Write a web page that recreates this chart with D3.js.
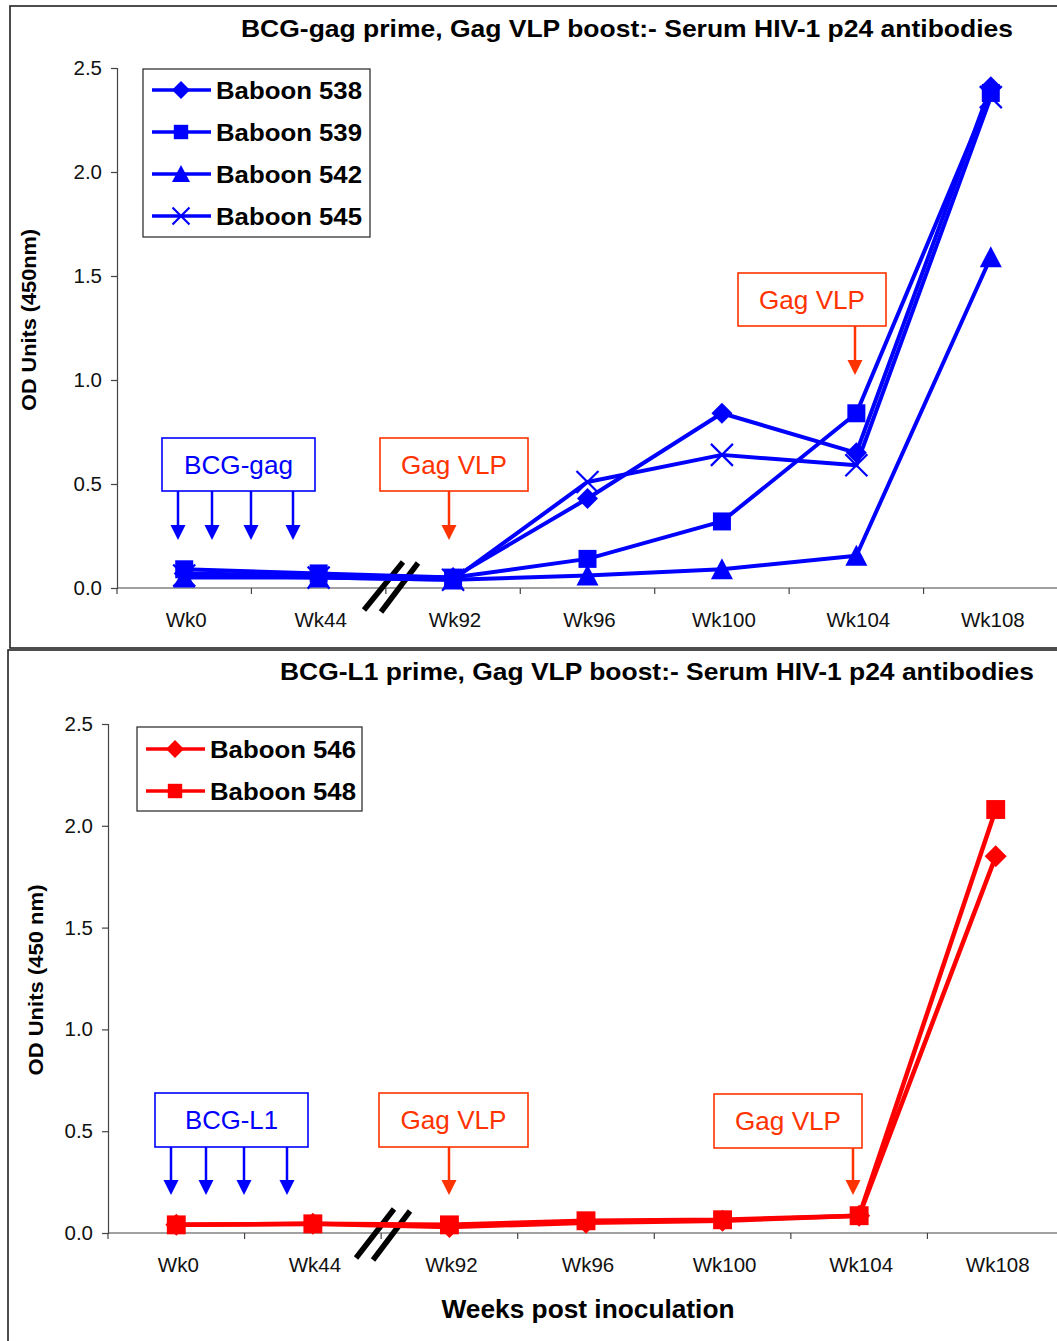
<!DOCTYPE html>
<html><head><meta charset="utf-8">
<script src="https://cdn.jsdelivr.net/npm/d3@7/dist/d3.min.js"></script>
<style>
html,body{margin:0;padding:0;background:#fff;}
svg{display:block;font-family:"Liberation Sans",Arial,sans-serif;}
</style></head>
<body>
<svg id="chart" width="1057" height="1341"></svg>
<script>
// ---- data ----
const categories = ["Wk0","Wk44","Wk92","Wk96","Wk100","Wk104","Wk108"];
const yTicks = [0, 0.5, 1.0, 1.5, 2.0, 2.5];
const baboon538 = [0.07, 0.06, 0.05, 0.43, 0.84, 0.65, 2.41];
const baboon539 = [0.09, 0.07, 0.05, 0.14, 0.32, 0.84, 2.38];
const baboon542 = [0.05, 0.05, 0.04, 0.06, 0.09, 0.155, 1.59];
const baboon545 = [0.06, 0.05, 0.04, 0.51, 0.64, 0.59, 2.36];
const baboon546 = [0.04, 0.045, 0.03, 0.05, 0.06, 0.085, 1.85];
const baboon548 = [0.04, 0.045, 0.04, 0.06, 0.065, 0.085, 2.08];
const topSeries = [
  {name:"Baboon 538", values:baboon538, marker:"diamond"},
  {name:"Baboon 539", values:baboon539, marker:"square"},
  {name:"Baboon 542", values:baboon542, marker:"triangle"},
  {name:"Baboon 545", values:baboon545, marker:"cross"}
];
const bottomSeries = [
  {name:"Baboon 546", values:baboon546, marker:"diamond"},
  {name:"Baboon 548", values:baboon548, marker:"square"}
];

const BLUE = "#0000ff", RED = "#ff0000", ORANGE = "#ff3300";
const svg = d3.select("#chart");

function markerPath(type, s) {
  const h = s/2;
  if (type === "diamond") return `M0,${-h}L${h},0L0,${h}L${-h},0Z`;
  if (type === "square") { const q = h*0.9; return `M${-q},${-q}H${q}V${q}H${-q}Z`; }
  if (type === "triangle") return `M0,${-h}L${h},${h*0.9}L${-h},${h*0.9}Z`;
  if (type === "cross") return `M${-h},${-h}L${h},${h}M${h},${-h}L${-h},${h}`;
}
function drawMarker(g, type, x, y, s, color) {
  const p = g.append("path").attr("transform", `translate(${x},${y})`).attr("d", markerPath(type, s));
  if (type === "cross") p.attr("fill","none").attr("stroke",color).attr("stroke-width",2.2);
  else p.attr("fill",color).attr("stroke","none");
}

function drawPanel(cfg) {
  const g = svg.append("g");
  // frame
  g.append("rect").attr("x",cfg.frame[0]).attr("y",cfg.frame[1]).attr("width",cfg.frame[2]).attr("height",cfg.frame[3])
    .attr("fill","none").attr("stroke","#222").attr("stroke-width",1.6);

  const x = d3.scaleBand().domain(categories).range([cfg.x0, cfg.x1]).padding(0);
  const y = d3.scaleLinear().domain([0, 2.5]).range([cfg.y0, cfg.y1]);
  const cx = c => x(c) + x.bandwidth()/2;

  // y axis
  const ya = g.append("g").attr("transform",`translate(${cfg.x0},0)`)
    .call(d3.axisLeft(y).tickValues(yTicks).tickFormat(d3.format(".1f")).tickSize(6).tickPadding(9));
  ya.select(".domain").attr("stroke","#444").attr("stroke-width",1.2);
  ya.selectAll(".tick line").attr("stroke","#444").attr("stroke-width",1.2);
  ya.selectAll(".tick text").attr("font-size",20.5).attr("fill","#111").attr("font-family","Liberation Sans, Arial, sans-serif");

  // x axis: line + ticks at band boundaries, labels at centers
  const xa = g.append("g").attr("transform",`translate(0,${cfg.y0})`);
  xa.append("line").attr("x1",cfg.x0).attr("x2",cfg.x1+10).attr("stroke","#444").attr("stroke-width",1.2);
  const bounds = categories.map(c => x(c)).concat([cfg.x1]);
  xa.selectAll("line.tk").data(bounds).join("line").attr("class","tk")
    .attr("x1",d=>d).attr("x2",d=>d).attr("y1",0).attr("y2",6).attr("stroke","#444").attr("stroke-width",1.2);
  xa.selectAll("text").data(categories).join("text")
    .attr("x", d => cx(d)+2).attr("y", 39).attr("text-anchor","middle")
    .attr("font-size",20.5).attr("fill","#111").text(d=>d);

  // break marks
  cfg.breaks.forEach(b => g.append("line").attr("x1",b[0]).attr("y1",b[1]).attr("x2",b[2]).attr("y2",b[3])
    .attr("stroke","#000").attr("stroke-width",5.5));

  // annotations
  cfg.boxes.forEach(b => {
    g.append("rect").attr("x",b.x).attr("y",b.y).attr("width",b.w).attr("height",b.h)
      .attr("fill","#fff").attr("stroke",b.color).attr("stroke-width",1.6);
    g.append("text").attr("x",b.x+b.w/2).attr("y",b.y+b.h/2+9).attr("text-anchor","middle")
      .attr("font-size",25).attr("fill",b.color).attr("textLength",b.tl).attr("lengthAdjust","spacingAndGlyphs").text(b.text);
    b.arrows.forEach(ax => {
      g.append("line").attr("x1",ax).attr("x2",ax).attr("y1",b.y+b.h).attr("y2",b.tip-12)
        .attr("stroke",b.color).attr("stroke-width",2.5);
      g.append("path").attr("d",`M${ax-7.5},${b.tip-15}L${ax+7.5},${b.tip-15}L${ax},${b.tip}Z`).attr("fill",b.color);
    });
  });

  // series
  const line = d3.line().x((d,i)=>cx(categories[i])).y(d=>y(d));
  cfg.series.forEach(s => {
    g.append("path").attr("d", line(s.values)).attr("fill","none")
      .attr("stroke",cfg.color).attr("stroke-width",cfg.lw).attr("stroke-linejoin","round");
  });
  cfg.series.forEach(s => {
    s.values.forEach((v,i) => drawMarker(g, s.marker, cx(categories[i]), y(v), s.marker==="cross"?22:(s.marker==="triangle"?22:(s.marker==="diamond"?cfg.dsize:cfg.ssize)), cfg.color));
  });

  // legend
  const L = cfg.legend;
  g.append("rect").attr("x",L.x).attr("y",L.y).attr("width",L.w).attr("height",L.h)
    .attr("fill","#fff").attr("stroke","#333").attr("stroke-width",1.3);
  cfg.series.forEach((s,i) => {
    const yy = L.y + L.first + i*L.gap;
    g.append("line").attr("x1",L.x+9).attr("x2",L.x+68).attr("y1",yy).attr("y2",yy)
      .attr("stroke",cfg.color).attr("stroke-width",3.5);
    drawMarker(g, s.marker, L.x+38, yy, s.marker==="square"?16:(s.marker==="cross"?17:18), cfg.color);
    g.append("text").attr("x",L.x+73).attr("y",yy+8.5).attr("font-size",24.5).attr("font-weight","bold")
      .attr("fill","#000").attr("textLength",146).attr("lengthAdjust","spacingAndGlyphs").text(s.name);
  });

  // titles
  g.append("text").attr("x",cfg.title.x).attr("y",cfg.title.y).attr("text-anchor","middle")
    .attr("font-size",24).attr("font-weight","bold").attr("textLength",cfg.title.len).attr("lengthAdjust","spacingAndGlyphs")
    .text(cfg.title.text);
  g.append("text").attr("transform",`translate(${cfg.ylab.x},${cfg.ylab.y}) rotate(-90)`).attr("text-anchor","middle")
    .attr("font-size",20).attr("font-weight","bold").attr("textLength",cfg.ylab.len).attr("lengthAdjust","spacingAndGlyphs")
    .text(cfg.ylab.text);
  if (cfg.xlab) g.append("text").attr("x",cfg.xlab.x).attr("y",cfg.xlab.y).attr("text-anchor","middle")
    .attr("font-size",25).attr("font-weight","bold").attr("textLength",cfg.xlab.len).attr("lengthAdjust","spacingAndGlyphs")
    .text(cfg.xlab.text);
}

drawPanel({
  frame:[10,6,1100,642],
  x0:117, x1:1058, y0:588, y1:68, color:BLUE, lw:4, dsize:21, ssize:20,
  series: topSeries,
  breaks:[[364,610,403,562],[381,612,418,563]],
  boxes:[
    {x:162,y:438,w:153,h:53,color:BLUE,text:"BCG-gag",tl:109,tip:540,arrows:[178,212,251,293]},
    {x:380,y:438,w:148,h:53,color:ORANGE,text:"Gag VLP",tl:106,tip:540,arrows:[449]},
    {x:738,y:273,w:148,h:53,color:ORANGE,text:"Gag VLP",tl:106,tip:375,arrows:[855]}
  ],
  legend:{x:143,y:69,w:227,h:168,first:21,gap:42},
  title:{x:627,y:37,len:772,text:"BCG-gag prime, Gag VLP boost:- Serum HIV-1 p24 antibodies"},
  ylab:{x:36,y:320,len:182,text:"OD Units (450nm)"}
});

drawPanel({
  frame:[8,650,1100,720],
  x0:108, x1:1064, y0:1233, y1:724, color:RED, lw:4.5, dsize:22, ssize:21,
  series: bottomSeries,
  breaks:[[356,1258,394,1209],[373,1260,410,1211]],
  boxes:[
    {x:155,y:1093,w:153,h:54,color:BLUE,text:"BCG-L1",tl:93,tip:1195,arrows:[171,206,244,287]},
    {x:379,y:1093,w:149,h:54,color:ORANGE,text:"Gag VLP",tl:106,tip:1195,arrows:[449]},
    {x:714,y:1094,w:148,h:54,color:ORANGE,text:"Gag VLP",tl:106,tip:1195,arrows:[853]}
  ],
  legend:{x:137,y:727,w:225,h:84,first:22,gap:42},
  title:{x:657,y:680,len:754,text:"BCG-L1 prime, Gag VLP boost:- Serum HIV-1 p24 antibodies"},
  ylab:{x:43,y:980,len:191,text:"OD Units (450 nm)"},
  xlab:{x:588,y:1318,len:293,text:"Weeks post inoculation"}
});
</script>
</body></html>
